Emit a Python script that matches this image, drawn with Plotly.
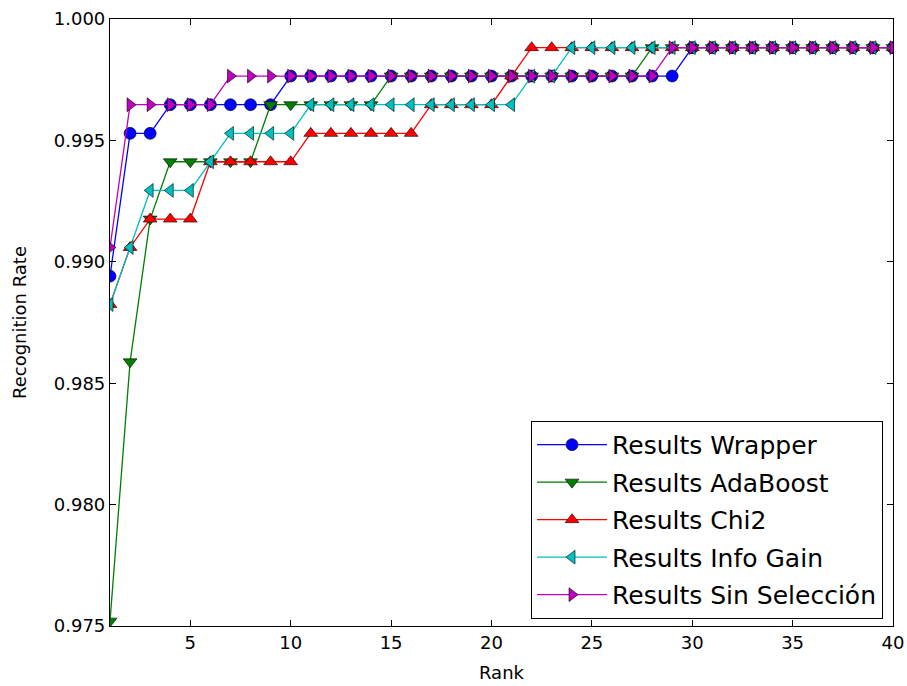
import plotly.graph_objects as go

rank = list(range(1, 41))

wrapper = [0.98941, 0.99529, 0.99529] + [0.99647] * 6 + [0.99765] * 20 + [0.99882] * 11
adaboost = [0.97520, 0.98588, 0.99176] + [0.99412] * 5 + [0.99647] * 6 + [0.99765] * 13 + [0.99882] * 13
chi2 = [0.98824, 0.99059] + [0.99176] * 3 + [0.99412] * 5 + [0.99529] * 6 + [0.99647] * 4 + [0.99765] + [0.99882] * 19
info_gain = [0.98824, 0.99059] + [0.99294] * 3 + [0.99412] + [0.99529] * 4 + [0.99647] * 11 + [0.99765] * 2 + [0.99882] * 17
sin_sel = [0.99059] + [0.99647] * 5 + [0.99765] * 22 + [0.99882] * 12

series_names = ["Results Wrapper", "Results AdaBoost", "Results Chi2", "Results Info Gain", "Results Sin Selección"]
series_values = [wrapper, adaboost, chi2, info_gain, sin_sel]
colors = ["#0000ff", "#007f00", "#ff0000", "#00bfbf", "#bf00bf"]
symbols = ["circle", "triangle-down", "triangle-up", "triangle-left", "triangle-right"]

fig = go.Figure()
for i, (name, vals, c, s) in enumerate(zip(series_names, series_values, colors, symbols)):
    fig.add_trace(go.Scatter(
        x=rank, y=vals, name=name, mode="lines+markers", legendgroup=f"g{i}",
        line=dict(color=c, width=1.3),
        marker=dict(symbol=s, size=12, color=c, line=dict(color="black", width=0.6)),
    ))

axis_common = dict(
    showline=True, linecolor="black", linewidth=1.2, mirror="ticks",
    ticks="inside", ticklen=6, tickcolor="black", showgrid=False, zeroline=False,
    automargin=False,
    tickfont=dict(family="DejaVu Sans", size=18, color="black"),
)

fig.update_layout(
    width=907, height=686,
    margin=dict(l=110, r=14, t=19, b=60),
    paper_bgcolor="white", plot_bgcolor="white",
    font=dict(family="DejaVu Sans", color="black"),
    xaxis=dict(range=[1, 40], tickvals=[5, 10, 15, 20, 25, 30, 35, 40],
               title=dict(text="Rank", font=dict(size=18), standoff=14), **axis_common),
    yaxis=dict(range=[0.975, 1.000], tickvals=[0.975, 0.980, 0.985, 0.990, 0.995, 1.000],
               tickformat=".3f",
               title=dict(text="Recognition Rate", font=dict(size=18), standoff=22), **axis_common),
    legend=dict(x=0.987, y=0.012, xanchor="right", yanchor="bottom",
                bgcolor="white", bordercolor="black", borderwidth=1.2,
                font=dict(size=25, color="black"), itemwidth=70, tracegroupgap=2),
    showlegend=True,
)

fig.write_html("out.html")
